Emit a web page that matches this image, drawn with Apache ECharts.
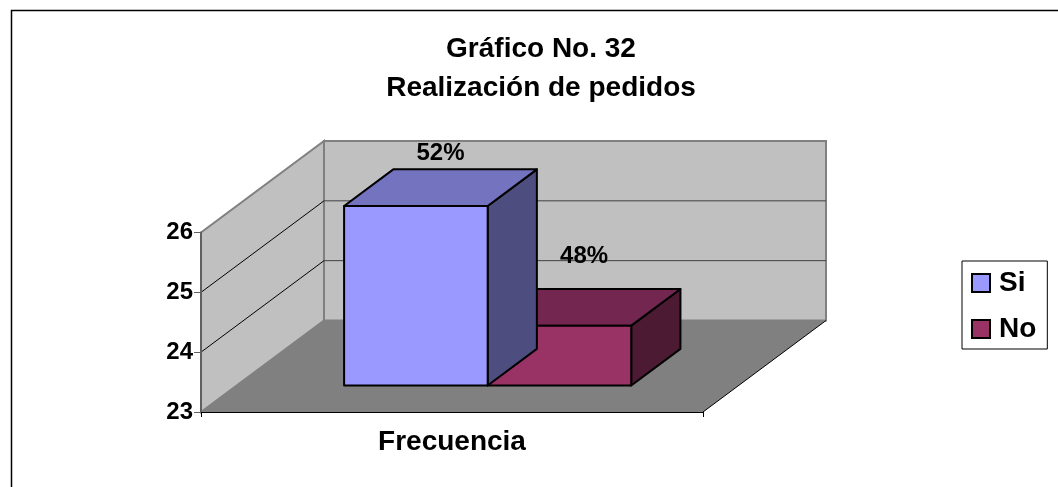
<!DOCTYPE html>
<html>
<head>
<meta charset="utf-8">
<script src="https://cdn.jsdelivr.net/npm/echarts@6/dist/echarts.min.js"></script>
<style>
  html, body { margin: 0; padding: 0; background: #ffffff; }
  #chart { width: 1058px; height: 487px; }
</style>
</head>
<body>
<div id="chart"></div>
<script>
// Data
const categories = ['Frecuencia'];
const seriesNames = ['Si', 'No'];
const siValues = [26];
const noValues = [24];
const yTicks = [23, 24, 25, 26];

// Style constants for the 3D look
const FONT = '"Liberation Sans", Arial, sans-serif';
const DEPTH_X = 123;     // wall depth, horizontal
const DEPTH_Y = -91.5;   // wall depth, vertical
const BAR_FRONT = 0.29;  // bar front plane, fraction of depth
const BAR_BACK = 0.69;   // bar back plane, fraction of depth
const BAR_FRAC = 0.286;  // bar width as share of category band
const FACE_COLORS = [
  { front: '#9999ff', top: '#7373bf', side: '#4d4d80' },
  { front: '#993366', top: '#732650', side: '#4d1a33' }
];
const LABEL_LIFT = [16, 33];

const yMin = yTicks[0];
const yMax = yTicks[yTicks.length - 1];
const total = siValues[0] + noValues[0];

// Walls, floor and gridlines of the 3D box
function renderFrame(params, api) {
  const c = api.coord([0, yMin]);
  const band = api.size([1, 0])[0];
  const L = c[0] - band / 2, R = c[0] + band / 2;
  const yBot = c[1];
  const yTop = api.coord([0, yMax])[1];
  const dx = DEPTH_X, dy = DEPTH_Y;
  const children = [
    { type: 'polygon', shape: { points: [[L, yTop], [L + dx, yTop + dy], [L + dx, yBot + dy], [L, yBot]] },
      style: { fill: '#c0c0c0', stroke: '#808080', lineWidth: 2 } },
    { type: 'polygon', shape: { points: [[L + dx, yTop + dy], [R + dx, yTop + dy], [R + dx, yBot + dy], [L + dx, yBot + dy]] },
      style: { fill: '#c0c0c0', stroke: '#808080', lineWidth: 2 } },
    { type: 'polygon', shape: { points: [[L, yBot], [R, yBot], [R + dx, yBot + dy], [L + dx, yBot + dy]] },
      style: { fill: '#808080', stroke: null } },
    { type: 'line', shape: { x1: R, y1: yBot, x2: R + dx, y2: yBot + dy },
      style: { stroke: '#000', lineWidth: 1 } }
  ];
  yTicks.slice(1, -1).forEach(function (v) {
    const y = api.coord([0, v])[1];
    children.push({ type: 'line', shape: { x1: L, y1: y, x2: L + dx, y2: y + dy },
      style: { stroke: '#000', lineWidth: 1 } });
    children.push({ type: 'line', shape: { x1: L + dx, y1: y + dy, x2: R + dx, y2: y + dy },
      style: { stroke: '#404040', lineWidth: 1 } });
  });
  return { type: 'group', children: children };
}

// One box per series value
function makeBarRenderer(idx) {
  return function (params, api) {
    const v = api.value(1);
    const top = api.coord([api.value(0), v]);
    const base = api.coord([api.value(0), yMin]);
    const band = api.size([1, 0])[0];
    const bw = band * BAR_FRAC;
    const x0 = top[0] - bw + idx * bw + BAR_FRONT * DEPTH_X;
    const x1 = x0 + bw;
    const yT = top[1] + BAR_FRONT * DEPTH_Y;
    const yB = base[1] + BAR_FRONT * DEPTH_Y;
    const ddx = (BAR_BACK - BAR_FRONT) * DEPTH_X;
    const ddy = (BAR_BACK - BAR_FRONT) * DEPTH_Y;
    const col = FACE_COLORS[idx];
    const edge = { stroke: '#000', lineWidth: 2, lineJoin: 'round' };
    const pct = Math.round(v / total * 100) + '%';
    return {
      type: 'group',
      children: [
        { type: 'polygon', shape: { points: [[x1, yT], [x1 + ddx, yT + ddy], [x1 + ddx, yB + ddy], [x1, yB]] },
          style: Object.assign({ fill: col.side }, edge) },
        { type: 'polygon', shape: { points: [[x0, yT], [x0 + ddx, yT + ddy], [x1 + ddx, yT + ddy], [x1, yT]] },
          style: Object.assign({ fill: col.top }, edge) },
        { type: 'rect', shape: { x: x0, y: yT, width: bw, height: yB - yT },
          style: Object.assign({ fill: col.front }, edge) },
        { type: 'text', x: (x0 + x1) / 2 + ddx / 2, y: yT + ddy - LABEL_LIFT[idx],
          style: { text: pct, fill: '#000', font: 'bold 24px ' + FONT, align: 'center', verticalAlign: 'middle' } }
      ]
    };
  };
}

const chart = echarts.init(document.getElementById('chart'), null, { renderer: 'canvas' });

chart.setOption({
  animation: false,
  backgroundColor: '#ffffff',
  title: {
    text: 'Gráfico No. 32\nRealización de pedidos',
    left: 536,
    top: 25,
    textAlign: 'center',
    textStyle: { fontFamily: FONT, fontSize: 28, fontWeight: 'bold', color: '#000', lineHeight: 39 }
  },
  legend: {
    data: seriesNames,
    orient: 'vertical',
    left: 962,
    top: 261,
    padding: [7, 11, 5, 9],
    itemGap: 16,
    itemWidth: 18,
    itemHeight: 18,
    icon: 'rect',
    borderColor: '#000',
    borderWidth: 1,
    textStyle: { fontFamily: FONT, fontSize: 28, fontWeight: 'bold', color: '#000', lineHeight: 30, padding: [0, 0, 0, 4] }
  },
  grid: { left: 201, top: 232.5, width: 502, height: 179.5, containLabel: false },
  xAxis: {
    type: 'category',
    data: categories,
    axisLine: { lineStyle: { color: '#000', width: 1 } },
    axisTick: { show: true, length: 5, lineStyle: { color: '#000' } },
    axisLabel: { margin: 16, fontFamily: FONT, fontSize: 28, fontWeight: 'bold', color: '#000' },
    z: 5
  },
  yAxis: {
    type: 'value',
    min: yMin,
    max: yMax,
    interval: 1,
    axisLine: { show: true, lineStyle: { color: '#606060', width: 2 } },
    axisTick: { show: true, length: 7, lineStyle: { color: '#606060' } },
    axisLabel: { margin: 8, fontFamily: FONT, fontSize: 24, fontWeight: 'bold', color: '#000' },
    splitLine: { show: false },
    z: 5
  },
  graphic: [{
    type: 'rect',
    shape: { x: 11.5, y: 10.5, width: 2000, height: 2000 },
    style: { fill: null, stroke: '#000', lineWidth: 1.5 },
    silent: true
  }],
  series: [
    {
      type: 'custom', name: 'frame', silent: true, z: 1,
      renderItem: renderFrame,
      data: [[0, yMin]]
    },
    {
      type: 'custom', name: seriesNames[0], z: 3,
      itemStyle: { color: FACE_COLORS[0].front, borderColor: '#000', borderWidth: 2 },
      renderItem: makeBarRenderer(0),
      data: siValues.map(function (v, i) { return [i, v]; })
    },
    {
      type: 'custom', name: seriesNames[1], z: 2,
      itemStyle: { color: FACE_COLORS[1].front, borderColor: '#000', borderWidth: 2 },
      renderItem: makeBarRenderer(1),
      data: noValues.map(function (v, i) { return [i, v]; })
    }
  ]
});
</script>
</body>
</html>
